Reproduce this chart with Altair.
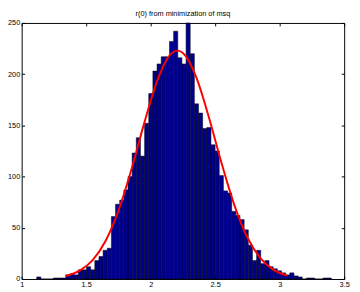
import altair as alt
import pandas as pd

# histogram bins (data units) and counts
bin_start = 1.1166
bin_width = 0.03216
counts = [2, 0, 0, 0, 1, 1, 1, 4, 5, 4,
          9, 9, 12, 9, 18, 22, 28, 30, 61, 73,
          77, 87, 100, 123, 138, 120, 152, 181, 203, 210,
          217, 217, 232, 242, 216, 210, 250, 220, 171, 162,
          147, 148, 131, 125, 101, 86, 84, 66, 62, 58,
          48, 33, 18, 28, 15, 18, 12, 10, 8, 6,
          4, 6, 3, 2, 0, 1, 1, 0, 0, 1, 1]

# red fitted curve
curve_x = [1.34, 1.45, 1.55, 1.65, 1.75, 1.85, 1.95, 2.05, 2.15, 2.21,
           2.25, 2.35, 2.45, 2.55, 2.65, 2.75, 2.85, 2.95, 3.06]
curve_y = [2.9, 8.1, 18.4, 37.1, 66.6, 106.7, 152.2, 193.3, 218.9, 223,
           220.6, 198.1, 158.5, 112.9, 71.7, 40.5, 20.4, 9.2, 3.3]

x_ticks = [1, 1.5, 2, 2.5, 3, 3.5]
y_ticks = [0, 50, 100, 150, 200, 250]
title_text = "r(0) from minimization of msq"

lo = [bin_start + i * bin_width for i in range(len(counts))]
bars_df = pd.DataFrame({"lo": lo, "hi": [v + bin_width for v in lo], "count": counts})
curve_df = pd.DataFrame({"x": curve_x, "y": curve_y})

FONT = "Liberation Sans"
xs = alt.Scale(domain=[1, 3.5], nice=False, zero=False)
ys = alt.Scale(domain=[0, 250], nice=False)

common = dict(tickSize=3, offset=-3, domain=False, grid=False, title="",
              tickColor="black", labelColor="black", labelFont=FONT,
              labelFontSize=7.5, labelFlush=False)

bars = alt.Chart(bars_df).mark_bar(color="#00008F", stroke="black", strokeWidth=0.5).encode(
    x=alt.X("lo:Q", scale=xs, axis=alt.Axis(orient="bottom", values=x_ticks, format="~g",
                                            labelPadding=2, **common)),
    x2="hi:Q",
    y=alt.Y("count:Q", scale=ys, axis=alt.Axis(orient="left", values=y_ticks,
                                               labelPadding=2, **common)),
    y2=alt.datum(0),
)

line = alt.Chart(curve_df).mark_line(color="red", strokeWidth=2, interpolate="monotone").encode(
    x=alt.X("x:Q", scale=xs, axis=alt.Axis(orient="top", values=x_ticks, labels=False, **common)),
    y=alt.Y("y:Q", scale=ys, axis=alt.Axis(orient="right", values=y_ticks, labels=False, **common)),
)

chart = alt.layer(bars, line).resolve_axis(x="independent", y="independent").properties(
    width=330,
    height=262,
    autosize=alt.AutoSizeParams(type="none"),
    padding={"left": 14, "top": 12, "right": 8, "bottom": 10},
    title=alt.TitleParams(title_text, fontSize=7.5, font=FONT, fontWeight="normal",
                          anchor="middle", frame="group", offset=2, color="black"),
).configure_view(stroke="black", strokeWidth=1)

chart.save("out.html", embed_options={"renderer": "svg", "actions": False})
